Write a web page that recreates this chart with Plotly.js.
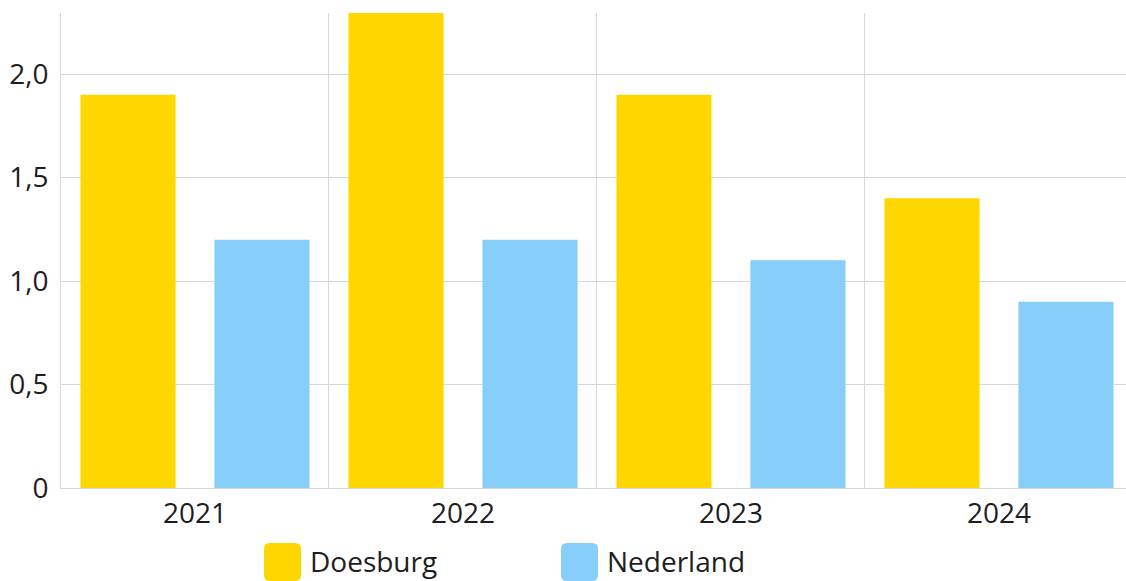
<!DOCTYPE html>
<html>
<head>
<meta charset="utf-8">
<script src="https://cdn.plot.ly/plotly-3.0.1.min.js"></script>
<style>
  html, body { margin: 0; padding: 0; background: #ffffff; }
  #chart { width: 1126px; height: 581px; }
</style>
</head>
<body>
<div id="chart"></div>
<script>
const years = ["2021", "2022", "2023", "2024"];
const doesburg = [1.9, 2.3, 1.9, 1.4];
const nederland = [1.2, 1.2, 1.1, 0.9];
const seriesNames = ["Doesburg", "Nederland"];
const seriesColors = ["#FFD700", "#87CEFA"];
const yTickVals = [0, 0.5, 1.0, 1.5, 2.0];
const yTickText = ["0", "0,5", "1,0", "1,5", "2,0"];

const W = 1126, H = 581;
const mL = 61, mR = 0, mT = 13, mB = 93;
const plotW = W - mL - mR, plotH = H - mT - mB;
const px2x = p => (p - mL) / plotW;
const py2y = p => (H - mB - p) / plotH;

const FONT = "'Segoe UI', 'Open Sans', 'Noto Sans', sans-serif";
const TXT = "#1e1e1e";

const traces = [
  { type: "bar", name: seriesNames[0], x: years, y: doesburg,
    marker: { color: seriesColors[0] }, showlegend: false, hoverinfo: "x+y" },
  { type: "bar", name: seriesNames[1], x: years, y: nederland,
    marker: { color: seriesColors[1] }, showlegend: false, hoverinfo: "x+y" }
];

// custom legend (rounded squares + labels) below the plot
function roundRect(x0, y0, x1, y1, r) {
  const X = px2x, Y = py2y;
  return `M ${X(x0 + r)} ${Y(y0)} L ${X(x1 - r)} ${Y(y0)} Q ${X(x1)} ${Y(y0)} ${X(x1)} ${Y(y0 + r)} ` +
         `L ${X(x1)} ${Y(y1 - r)} Q ${X(x1)} ${Y(y1)} ${X(x1 - r)} ${Y(y1)} ` +
         `L ${X(x0 + r)} ${Y(y1)} Q ${X(x0)} ${Y(y1)} ${X(x0)} ${Y(y1 - r)} ` +
         `L ${X(x0)} ${Y(y0 + r)} Q ${X(x0)} ${Y(y0)} ${X(x0 + r)} ${Y(y0)} Z`;
}
const legendItems = [
  { sx: 264, tx: 308 },
  { sx: 561, tx: 605 }
];
const shapes = [];
const annotations = [];
legendItems.forEach((it, i) => {
  shapes.push({ type: "path", xref: "paper", yref: "paper",
    path: roundRect(it.sx, 543, it.sx + 37, 581, 6),
    fillcolor: seriesColors[i], line: { width: 0 } });
  annotations.push({ xref: "paper", yref: "paper", x: px2x(it.tx), y: py2y(561),
    xanchor: "left", yanchor: "middle", showarrow: false, text: seriesNames[i],
    font: { family: FONT, size: 28, color: TXT } });
});

const layout = {
  width: W, height: H,
  margin: { l: mL, r: mR, t: mT, b: mB, pad: 0 },
  paper_bgcolor: "#ffffff", plot_bgcolor: "#ffffff",
  separators: ",.",
  barmode: "group", bargap: 0, bargroupgap: 0.29,
  showlegend: false,
  font: { family: FONT, size: 28, color: TXT },
  xaxis: {
    type: "category", range: [-0.5, 3.474],
    tickson: "boundaries", showgrid: true, gridcolor: "#d3d8e2", gridwidth: 1,
    ticks: "", showline: true, linecolor: "#d3d8e2", linewidth: 1,
    tickfont: { family: FONT, size: 28, color: TXT }, zeroline: false,
    fixedrange: true
  },
  yaxis: {
    range: [0, 2.295], tickvals: yTickVals, ticktext: yTickText,
    showgrid: true, gridcolor: "#d3d8e2", gridwidth: 1,
    ticks: "", showline: true, linecolor: "#d3d8e2", linewidth: 1,
    zeroline: false, ticklabelstandoff: 6,
    tickfont: { family: FONT, size: 28, color: TXT },
    fixedrange: true
  },
  shapes: shapes,
  annotations: annotations
};

Plotly.newPlot("chart", traces, layout, { displayModeBar: false, staticPlot: true });
</script>
</body>
</html>
